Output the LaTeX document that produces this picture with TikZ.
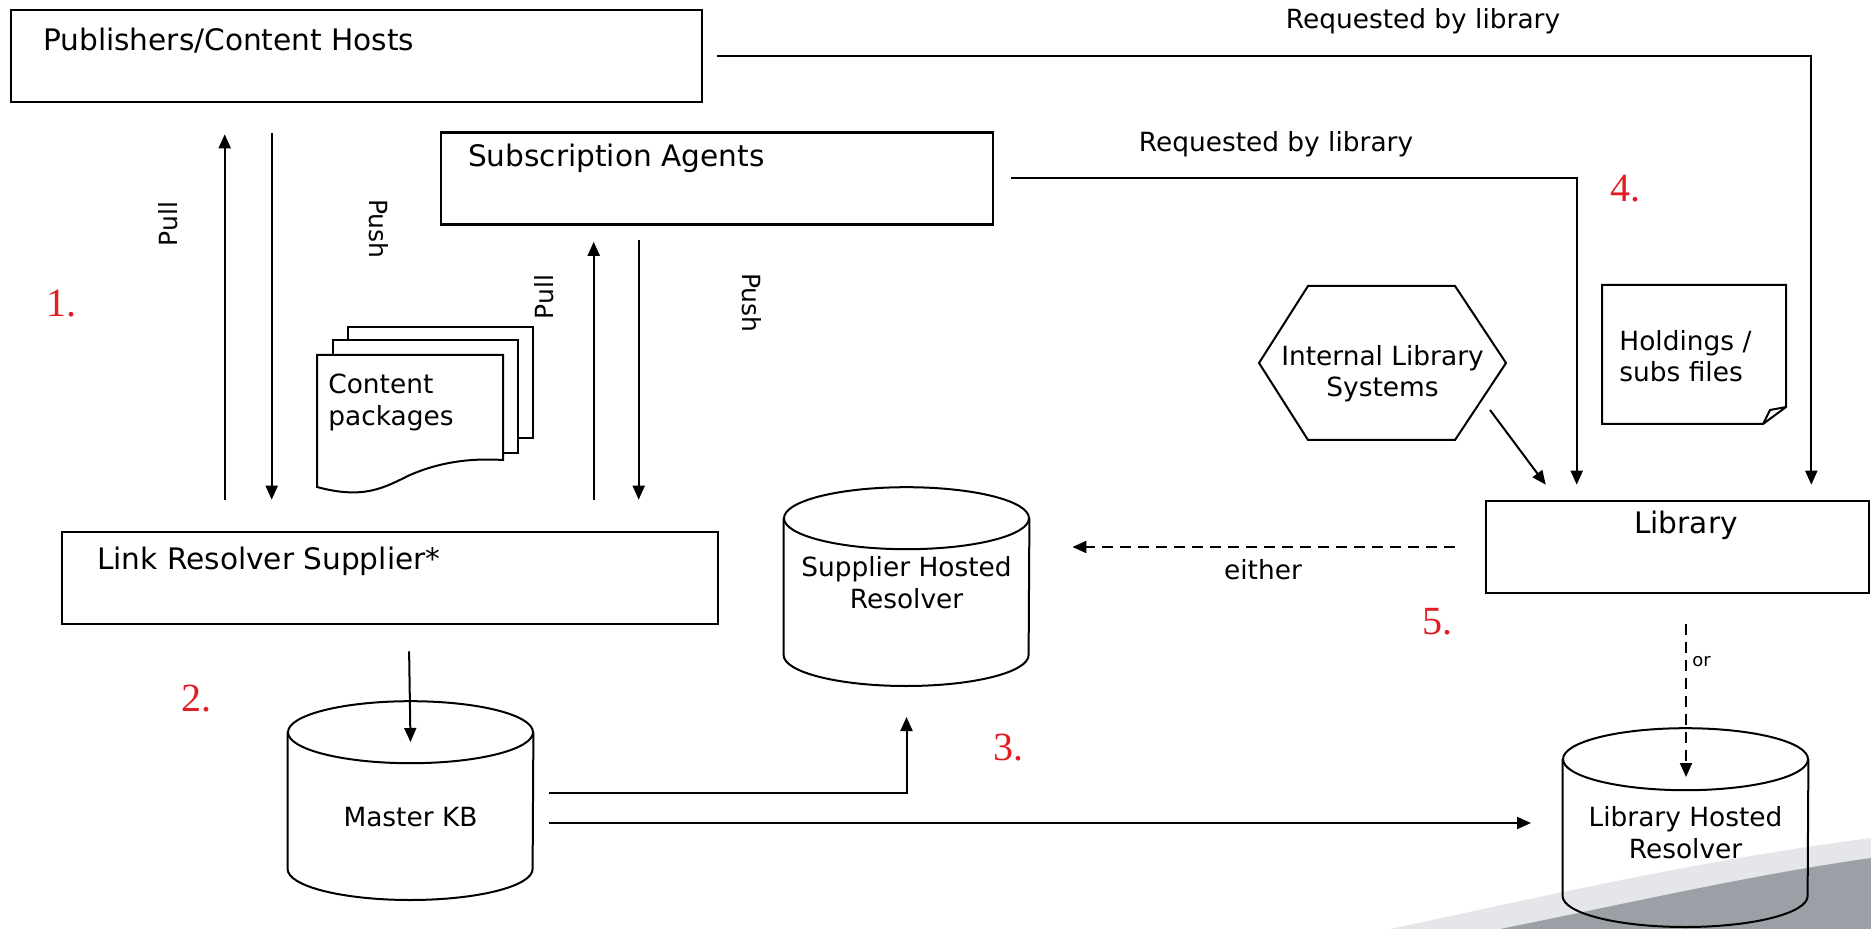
\documentclass[tikz,border=0pt]{standalone}
\usepackage{fontspec}
\setmainfont{DejaVu Sans}
\newfontfamily\numfont{Liberation Serif}
\usepackage{xcolor}
\usetikzlibrary{arrows.meta, positioning, calc}
\definecolor{stepred}{HTML}{E31B23}
\definecolor{swooshlight}{HTML}{E4E6E9}
\definecolor{swooshdark}{HTML}{9CA0A6}
% outline of a database drum around an (invisible) node
\newcommand{\dbdrum}[1]{%
    \draw[plain] ($(#1.north)+(0,31)$) ellipse [x radius=61.25pt, y radius=15.5pt];
    \draw[plain] ($(#1.north west)+(0,31)$) -- ($(#1.south west)+(0,-31)$)
        arc [start angle=180, end angle=360, x radius=61.25pt, y radius=15.5pt]
        -- ($(#1.north east)+(0,31)$);}

\begin{document}
\begin{tikzpicture}[x=0.5pt, y=-0.5pt,
    box/.style={draw, line width=1.3pt, minimum height=46pt, inner sep=0pt},
    boxtitle/.style={font=\fontsize{14.8}{17}\selectfont, anchor=base west, inner sep=0pt},
    lbl/.style={font=\fontsize{13.2}{16}\selectfont, inner sep=0pt},
    vlbl/.style={font=\fontsize{12.5}{15}\selectfont, inner sep=0pt},
    conn/.style={-{Triangle[length=7pt, width=6pt]}, line width=1pt},
    plain/.style={line width=1pt},
    either/.style={conn, dash pattern=on 5.5pt off 3.5pt},
    docline/.style={draw, fill=white, line width=1pt},
    db/.style={minimum width=122.5pt, minimum height=99pt, inner sep=0pt, anchor=south},
    dbtext/.style={lbl, align=center},
    stepnum/.style={text=stepred, font=\numfont\fontsize{20}{20}\selectfont, anchor=base west, inner sep=0pt}]
    \useasboundingbox (0,0) rectangle (1871,929);
    \fill[swooshlight] (1390,929) .. controls (1550,895) and (1700,860) .. (1871,838) -- (1871,929) -- cycle;
    \fill[swooshdark] (1500,929) .. controls (1620,905) and (1750,875) .. (1871,858) -- (1871,929) -- cycle;

    \node[box, minimum width=345.5pt] (pub) at (356.5,56) {};
    \node[boxtitle] at ($(pub.north west)+(33,42)$) {Publishers/Content Hosts};
    \node[box, minimum width=276pt] (agents) at (717,178.5) {};
    \node[boxtitle] at ($(agents.north west)+(28,35)$) {Subscription Agents};
    \node[box, minimum width=328pt] (lrs) at (390,578) {};
    \node[boxtitle] at ($(lrs.north west)+(36,39)$) {Link Resolver Supplier*};
    \node[box, minimum width=191.5pt] (lib) at (1677.5,547) {};
    \node[boxtitle, anchor=base] at ($(lib.north)+(8.5,34)$) {Library};

    \node[db] (mkb) at (410.5,900) {};
    \dbdrum{mkb}
    \node[dbtext] (mkbtext) at ($(mkb.south)+(0,-82.5)$) {Master KB};
    \node[db] (shr) at (906.5,686) {};
    \dbdrum{shr}
    \node[dbtext] (shrtext) at ($(shr.south)+(0,-103)$) {Supplier Hosted\\Resolver};
    \node[db] (lhr) at (1685.5,927) {};
    \dbdrum{lhr}
    \node[dbtext] (lhrtext) at ($(lhr.south)+(0,-94)$) {Library Hosted\\Resolver};

    \filldraw[docline] (348,327) rectangle (533,438);
    \filldraw[docline] (333,340) rectangle (518,453);
    \filldraw[docline] (317,355) -- (503,355) -- (503,460)
        .. controls (470,458) and (440,462) .. (410,475)
        .. controls (385,487) and (365,500) .. (317,487) -- cycle;
    \node[lbl, anchor=west, align=left] (pkgs) at (328,402) {Content\\packages};

    \node[lbl, align=center, font=\fontsize{13.2}{15.5}\selectfont] (isys) at (1382.5,373.5) {Internal Library\\Systems};
    \draw[plain] ($(isys)+(-123.5,-10.5)$) -- ($(isys)+(-74.5,-87.5)$) -- ($(isys)+(72.5,-87.5)$)
        -- ($(isys)+(123.5,-10.5)$) -- ($(isys)+(72.5,66.5)$) -- ($(isys)+(-74.5,66.5)$) -- cycle;

    \draw[plain] (1602,285) -- (1786,285) -- (1786,407) -- (1763,424) -- (1602,424) -- cycle;
    \draw[plain] (1763,424) -- (1770,410) .. controls (1778,408) .. (1786,407);
    \node[lbl, anchor=west, align=left, font=\fontsize{13.2}{15.5}\selectfont] (hold) at (1619,356) {Holdings /\\subs files};

    \draw[conn, shorten <=15.5pt, shorten >=15.5pt] ($(lrs.north west)+(164,0)$) -- ($(pub.south west)+(215,0)$);
    \draw[conn, shorten <=15pt, shorten >=15.5pt] ($(pub.south west)+(262,0)$) -- ($(lrs.north west)+(211,0)$);
    \draw[conn, shorten <=15.5pt, shorten >=8pt] ($(lrs.north west)+(533,0)$) -- ($(agents.south west)+(154,0)$);
    \draw[conn, shorten <=7pt, shorten >=15.5pt] ($(agents.south west)+(199,0)$) -- ($(lrs.north west)+(578,0)$);
    \node[vlbl, rotate=90] (pull1) at (168,224) {Pull};
    \node[vlbl, rotate=-90] (push1) at (379,229) {Push};
    \node[vlbl, rotate=90] (pull2) at (544,297) {Pull};
    \node[vlbl, rotate=-90] (push2) at (752,303) {Push};

    \draw[conn, shorten <=7pt, shorten >=7.5pt] (pub.east) -| ($(lib.north east)+(-59,0)$);
    \draw[conn, shorten <=8.5pt, shorten >=7.5pt] (agents.east) -| ($(lib.north west)+(92,0)$);
    \draw[conn] ($(isys.center)+(107.5,36.5)$) -- ($(lib.north west)+(61,-15)$);
    \node[lbl, anchor=base] (req1) at (1423,29) {Requested by library};
    \node[lbl, anchor=base] (req2) at (1276,152) {Requested by library};

    \draw[conn, shorten <=13pt] ($(lrs.south west)+(348,0)$) -- ($(mkb.south)+(0,-158)$);
    \draw[conn, shorten <=8pt, shorten >=15.5pt] ($(mkb.south)+(122.5,-107)$) -| (shr.south);
    \draw[conn, shorten <=8pt, shorten >=16pt] ($(mkb.south)+(122.5,-77)$) -- ($(lhr.south)+(-122.5,-104)$);

    \draw[either, shorten <=15pt, shorten >=21.5pt] (lib.west) -- (lib.west -| shr.east);
    \node[lbl, anchor=base] (eith) at (1263,579) {either};
    \draw[either, shorten <=15pt] ($(lib.south)+(8.5,0)$) -- ($(lhr.south)+(0.5,-150)$);
    \node[lbl, anchor=west, font=\fontsize{9}{10}\selectfont] (or) at (1692,662) {or};

    \node[stepnum] (n1) at (46,317) {1.};
    \node[stepnum] (n2) at (181,711) {2.};
    \node[stepnum] (n3) at (993,760) {3.};
    \node[stepnum] (n4) at (1610,202) {4.};
    \node[stepnum] (n5) at (1422,634) {5.};
\end{tikzpicture}
\end{document}
